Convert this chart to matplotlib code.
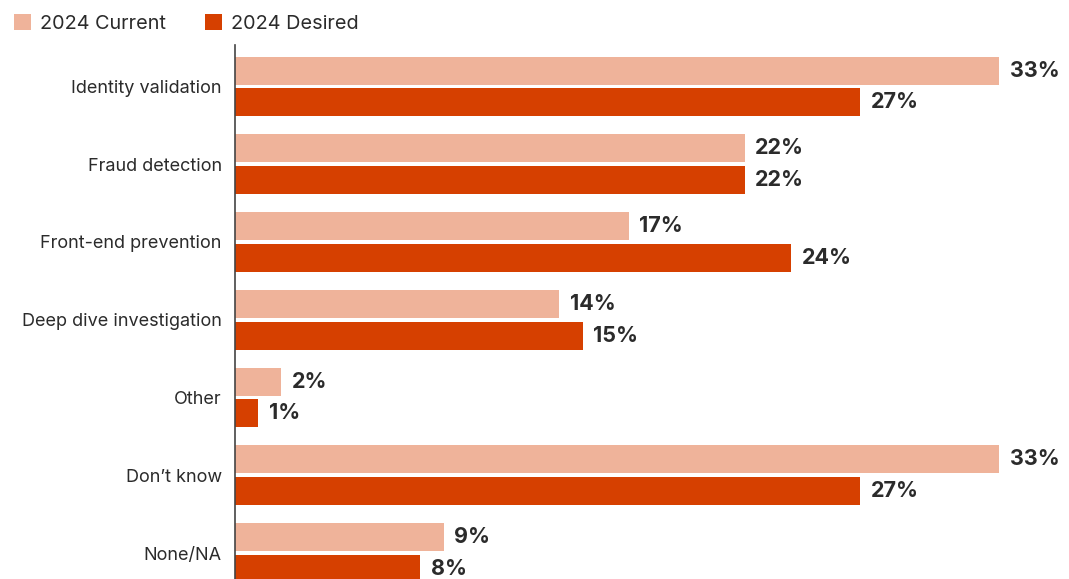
import matplotlib.pyplot as plt
import numpy as np

plt.rcParams['font.family'] = ['Inter', 'DejaVu Sans']

categories = ["Identity validation", "Fraud detection", "Front-end prevention",
              "Deep dive investigation", "Other", "Don\u2019t know", "None/NA"]
current = [33, 22, 17, 14, 2, 33, 9]
desired = [27, 22, 24, 15, 1, 27, 8]
series_names = ["2024 Current", "2024 Desired"]

light = "#EFB39A"
dark = "#D64000"
text_color = "#2b2b2b"

fig = plt.figure(figsize=(10.69, 5.79), dpi=100)
ax = fig.add_axes([235 / 1069, 0, 834 / 1069, 534 / 579])

y = np.arange(len(categories))
h = 0.36
off = 0.205
ax.barh(y - off, current, height=h, color=light, label=series_names[0])
ax.barh(y + off, desired, height=h, color=dark, label=series_names[1])

for yi, c, d in zip(y, current, desired):
    ax.text(c + 0.45, yi - off, f"{c}%", va="center", ha="left",
            fontsize=15.5, fontweight="bold", color=text_color)
    ax.text(d + 0.45, yi + off, f"{d}%", va="center", ha="left",
            fontsize=15.5, fontweight="bold", color=text_color)

ax.set_xlim(0, 36)
ax.set_ylim(len(categories) - 1 + 0.334, -0.533)
ax.set_yticks(y)
ax.set_yticklabels(categories, fontsize=13, color=text_color)
ax.tick_params(axis="y", length=0, pad=9.5)
ax.set_xticks([])
for s in ["top", "right", "bottom"]:
    ax.spines[s].set_visible(False)
ax.spines["left"].set_color("#444444")
ax.spines["left"].set_linewidth(1.2)

fig.legend(loc="upper left", bbox_to_anchor=(0.0, 1.0), ncol=2, frameon=False,
           fontsize=14.3, handlelength=0.85, handleheight=0.85,
           handletextpad=0.45, columnspacing=2.0, borderaxespad=0.3,
           labelcolor=text_color)

fig.savefig("out.png", dpi=100)
